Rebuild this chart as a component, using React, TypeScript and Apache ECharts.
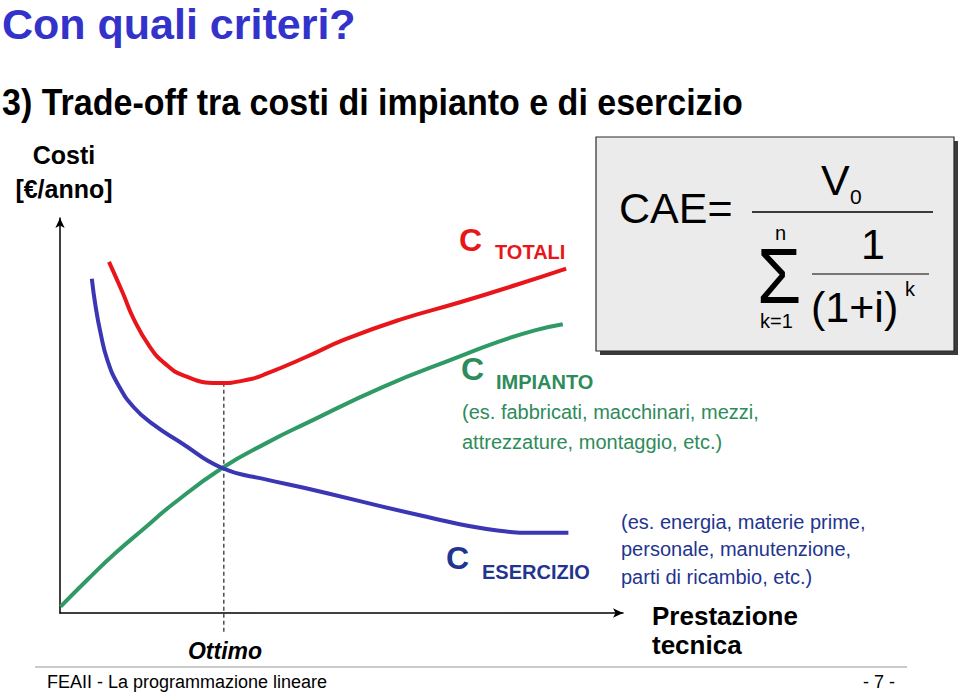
import React, { useEffect, useRef } from "react";
import * as echarts from "echarts";

// Curves: [prestazione tecnica, costo] in relative units (0..100)
const impiantoCurve: [number, number][] = [
  [0.1, 1.6], [5.0, 8.6], [9.7, 15.0], [15.2, 21.7], [19.9, 27.4], [28.8, 36.7],
  [36.9, 43.2], [43.7, 48.0], [57.3, 57.2], [70.9, 64.9], [77.7, 68.6], [84.5, 71.6], [89.3, 73.1],
];
const esercizioCurve: [number, number][] = [
  [5.65, 84.6], [6.3, 77.8], [7.2, 70.9], [8.4, 64.1], [10.4, 57.6], [13.1, 52.1],
  [16.5, 47.8], [21.3, 43.3], [28.8, 36.7], [36.9, 33.7], [43.7, 31.6], [64.1, 24.7], [77.7, 20.9],
  [84.5, 20.3], [90.3, 20.3],
];
const totaliCurve: [number, number][] = [
  [8.7, 88.9], [11.1, 81.2], [13.1, 74.4], [15.9, 67.5], [18.6, 63.2], [22.0, 60.1],
  [28.0, 58.2], [33.5, 59.1], [36.9, 60.7], [43.7, 64.8], [50.5, 69.2],
  [60.7, 74.4], [70.9, 78.6], [81.1, 83.1], [89.9, 87.2],
];
const ottimoLine: [number, number][] = [
  [29.1, 58.3], [29.1, -5.3],
];

const titleText = "Con quali criteri?";
const subtitleText = "3) Trade-off tra costi di impianto e di esercizio";
const yAxisName = ["Costi", "[€/anno]"];
const xAxisName = ["Prestazione", "tecnica"];
const ottimoLabel = "Ottimo";
const impiantoExamples = ["(es. fabbricati, macchinari, mezzi,", "attrezzature, montaggio, etc.)"];
const esercizioExamples = ["(es. energia, materie prime,", "personale, manutenzione,", "parti di ricambio, etc.)"];
const footerLeft = "FEAII - La programmazione lineare";
const footerRight = "- 7 -";

const RED = "#e8161b";
const BLUE = "#3a36b4";
const GREEN = "#2f9a66";
const GREEN_TXT = "#2e8b5a";
const NAVY = "#1f3590";
const SANS = "Liberation Sans, Arial, sans-serif";

function txt(x: number, y: number, text: string, font: string, fill: string, align = "left", extra: any = {}) {
  return {
    type: "text",
    x,
    y,
    silent: true,
    ...extra,
    style: { text, font, fill, align, verticalAlign: "middle" },
  };
}

export default function App() {
  const ref = useRef<HTMLDivElement>(null);
  useEffect(() => {
    document.body.style.margin = "0";
    const chart = echarts.init(ref.current!, null, { renderer: "svg" });
    const lineSeries = (name: string, data: [number, number][], color: string) => ({
      type: "line",
      name,
      data,
      smooth: 0.5,
      symbol: "none",
      lineStyle: { color, width: 4 },
      z: 3,
    });
    chart.setOption({
      animation: false,
      backgroundColor: "#ffffff",
      grid: { left: 60, top: 218, width: 563, height: 395, containLabel: false },
      xAxis: {
        type: "value",
        min: 0,
        max: 100,
        axisLine: { show: true, symbol: ["none", "arrow"], symbolSize: [7, 10], lineStyle: { color: "#000", width: 1.5 } },
        axisTick: { show: false },
        axisLabel: { show: false },
        splitLine: { show: false },
      },
      yAxis: {
        type: "value",
        min: 0,
        max: 100,
        axisLine: { show: true, symbol: ["none", "arrow"], symbolSize: [7, 10], lineStyle: { color: "#000", width: 1.5 } },
        axisTick: { show: false },
        axisLabel: { show: false },
        splitLine: { show: false },
      },
      series: [
        {
          type: "line",
          name: "Ottimo",
          data: ottimoLine,
          symbol: "none",
          clip: false,
          lineStyle: { color: "#222", width: 1.2, type: [4, 3] },
          z: 1,
        },
        lineSeries("C impianto", impiantoCurve, GREEN),
        lineSeries("C esercizio", esercizioCurve, BLUE),
        lineSeries("C totali", totaliCurve, RED),
      ],
      graphic: [
        txt(2, 24, titleText, `bold 43px ${SANS}`, "#3333cc"),
        txt(2, 102, subtitleText, `bold 36px ${SANS}`, "#000", "left", { scaleX: 0.945 }),
        txt(64, 155, yAxisName[0], `bold 25px ${SANS}`, "#000", "center"),
        txt(64, 189, yAxisName[1], `bold 25px ${SANS}`, "#000", "center"),
        // C TOTALI
        txt(459, 240, "C", `bold 32px ${SANS}`, RED),
        txt(495, 252, "TOTALI", `bold 20px ${SANS}`, RED),
        // C IMPIANTO
        txt(461, 369, "C", `bold 32px ${SANS}`, GREEN_TXT),
        txt(496, 382, "IMPIANTO", `bold 20px ${SANS}`, GREEN_TXT),
        txt(462, 412, impiantoExamples[0], `20px ${SANS}`, GREEN_TXT),
        txt(462, 442, impiantoExamples[1], `20px ${SANS}`, GREEN_TXT),
        // C ESERCIZIO
        txt(446, 558, "C", `bold 32px ${SANS}`, NAVY),
        txt(482, 572, "ESERCIZIO", `bold 20px ${SANS}`, NAVY),
        txt(621, 522, esercizioExamples[0], `20px ${SANS}`, NAVY),
        txt(621, 549, esercizioExamples[1], `20px ${SANS}`, NAVY),
        txt(621, 577, esercizioExamples[2], `20px ${SANS}`, NAVY),
        // axis names
        txt(652, 616, xAxisName[0], `bold 26px ${SANS}`, "#000"),
        txt(652, 645, xAxisName[1], `bold 26px ${SANS}`, "#000"),
        txt(225, 651, ottimoLabel, `italic bold 23px ${SANS}`, "#000", "center"),
        // footer
        { type: "line", silent: true, shape: { x1: 35, y1: 667, x2: 907, y2: 667 }, style: { stroke: "#b8b8b8", lineWidth: 1.5 } },
        txt(47, 682, footerLeft, `18px ${SANS}`, "#000"),
        txt(895, 682, footerRight, `18px ${SANS}`, "#000", "right"),
        // formula box
        { type: "rect", silent: true, shape: { x: 600, y: 141, width: 358, height: 214 }, style: { fill: "#3a3a3a" } },
        { type: "rect", silent: true, shape: { x: 596, y: 137, width: 358, height: 214 }, style: { fill: "#ebebeb", stroke: "#2a2a2a", lineWidth: 1.2 } },
        txt(619, 208, "CAE=", `43px ${SANS}`, "#000"),
        { type: "line", silent: true, shape: { x1: 752, y1: 212, x2: 933, y2: 212 }, style: { stroke: "#000", lineWidth: 1.5 } },
        txt(821, 180, "V", `43px ${SANS}`, "#000"),
        txt(850, 196, "0", `21px ${SANS}`, "#000"),
        txt(775, 233, "n", `20px ${SANS}`, "#000"),
        txt(757, 276, "Σ", `78px ${SANS}`, "#000", "left", { scaleX: 0.92 }),
        txt(760, 321, "k=1", `20px ${SANS}`, "#000"),
        txt(861, 244, "1", `43px ${SANS}`, "#000"),
        { type: "line", silent: true, shape: { x1: 812, y1: 274, x2: 929, y2: 274 }, style: { stroke: "#000", lineWidth: 1 } },
        txt(811, 307, "(1+i)", `43px ${SANS}`, "#000"),
        txt(905, 289, "k", `20px ${SANS}`, "#000"),
      ],
    });
    return () => chart.dispose();
  }, []);
  return <div ref={ref} style={{ position: "fixed", left: 0, top: 0, width: 960, height: 692 }} />;
}
